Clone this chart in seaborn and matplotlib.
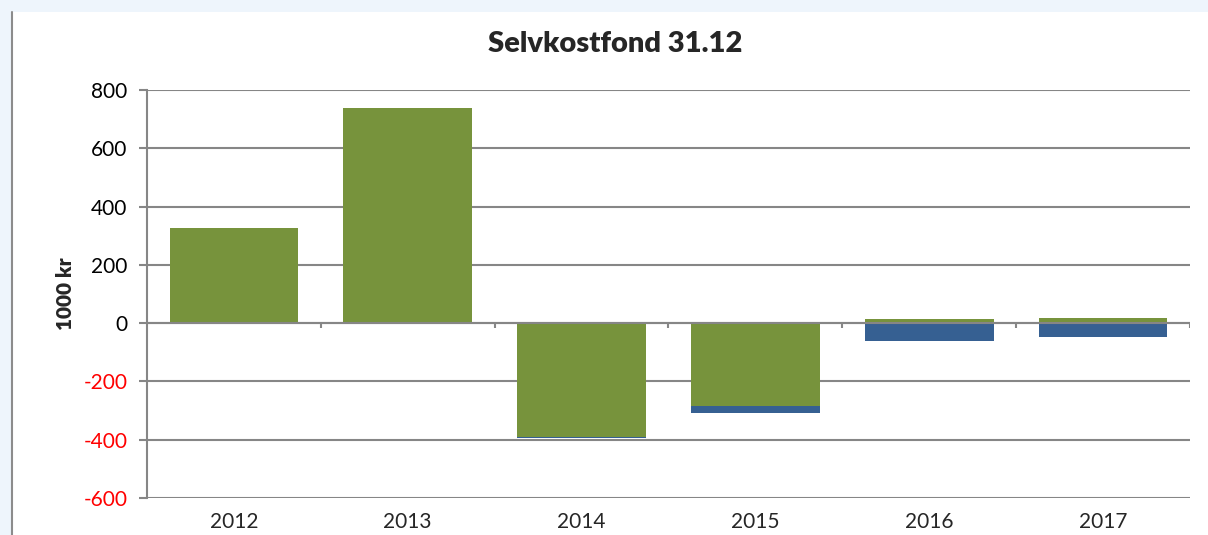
import numpy as np
import pandas as pd
import matplotlib
matplotlib.use("Agg")
import matplotlib.pyplot as plt
import seaborn as sns
from matplotlib.patches import Rectangle
from matplotlib.lines import Line2D

years = ["2012", "2013", "2014", "2015", "2016", "2017"]
fond_green = [326, 738, -392, -285, 15, 18]
fond_blue = [0, 0, -3, -23, -61, -49]
yticks = [800, 600, 400, 200, 0, -200, -400, -600]

GREEN = "#77933C"
BLUE = "#366092"
GRID = "#868686"

sns.set_theme(style="white")
plt.rcParams['font.family'] = ['Lato', 'DejaVu Sans']

fig = plt.figure(figsize=(12.08, 5.35), dpi=100)
fig.patch.set_facecolor("#EEF5FC")
fig.add_artist(Rectangle((12/1208, 0), 1 - 12/1208, 1 - 12/535, transform=fig.transFigure,
                         facecolor="white", edgecolor="none", zorder=0))
fig.add_artist(Line2D([12/1208, 12/1208], [0, 1 - 12/535], transform=fig.transFigure,
                      color="#8C8C8C", lw=1.5, zorder=1))

ax = fig.add_axes([147/1208, 37/535, (1190-147)/1208, (498-90)/535])
ax.set_facecolor("none")

df = pd.DataFrame({"year": years, "green": fond_green, "blue": fond_blue})
df["blue_total"] = np.minimum(df["green"], 0) + df["blue"]

sns.barplot(data=df, x="year", y="blue_total", color=BLUE, saturation=1, width=0.74,
            ax=ax, zorder=2, linewidth=0)
sns.barplot(data=df, x="year", y="green", color=GREEN, saturation=1, width=0.74,
            ax=ax, zorder=3, linewidth=0)

ax.set_ylim(-600, 800)
ax.set_xlim(-0.5, len(years) - 0.5)
ax.set_yticks(yticks)
ax.set_yticklabels([str(v) for v in yticks], fontsize=15)
for lab, v in zip(ax.get_yticklabels(), yticks):
    lab.set_color("red" if v < 0 else "black")
ax.yaxis.grid(True, color=GRID, lw=1.5, zorder=1)
ax.set_axisbelow(True)
ax.tick_params(axis="y", direction="out", length=6, width=1.5, color=GRID, left=True, pad=8)
ax.tick_params(axis="x", length=0, labelsize=15, pad=10)
ax.set_xlabel("")
ax.set_ylabel("1000 kr", fontsize=15, fontweight="heavy", labelpad=6)

for s in ["top", "right", "bottom"]:
    ax.spines[s].set_visible(False)
ax.spines["left"].set_color(GRID)
ax.spines["left"].set_linewidth(1.5)

ax.axhline(0, color=GRID, lw=1.5, zorder=4)
bounds = np.arange(len(years) + 1) - 0.5
ax.vlines(bounds[1:], -18, 0, color=GRID, lw=1.5, zorder=4)

fig.text(615/1208, 1 - 44/535, "Selvkostfond 31.12", ha="center", va="center",
         fontsize=21, fontweight="heavy")

fig.savefig("out.png", dpi=100, facecolor=fig.get_facecolor())
